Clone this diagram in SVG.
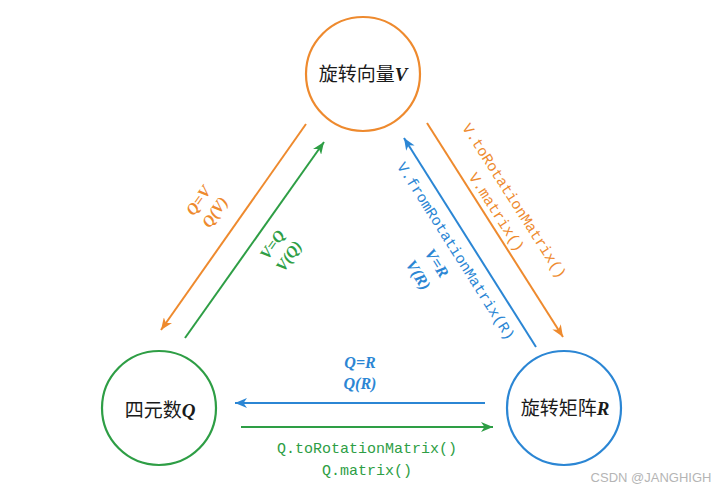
<svg xmlns="http://www.w3.org/2000/svg" width="727" height="492" viewBox="0 0 727 492">
<style>
.node{fill:none;stroke-width:2.2}
.lbl{font-family:"Noto Sans CJK SC","Liberation Sans",sans-serif;font-size:19px;fill:#1a1a1a;text-anchor:middle}
.var{font-family:"Liberation Serif",serif;font-style:italic;font-weight:bold}
.math{font-family:"Liberation Serif",serif;font-style:italic;font-weight:bold;font-size:16px;text-anchor:middle}
.code{font-family:"Liberation Mono",monospace;font-size:15px;text-anchor:middle}
.conn{fill:none;stroke-width:2}
.o{stroke:#EE8A2E}.g{stroke:#2E9E45}.b{stroke:#2B86D4}
.to{fill:#EE8A2E}.tg{fill:#2E9E45}.tb{fill:#2B86D4}
</style>
<defs>
<marker id="ao" viewBox="0 0 12 10" refX="12" refY="5" markerWidth="12" markerHeight="10" markerUnits="userSpaceOnUse" orient="auto"><path d="M0,0 L12,5 L0,10 L3.5,5 z" fill="#EE8A2E"/></marker>
<marker id="ag" viewBox="0 0 12 10" refX="12" refY="5" markerWidth="12" markerHeight="10" markerUnits="userSpaceOnUse" orient="auto"><path d="M0,0 L12,5 L0,10 L3.5,5 z" fill="#2E9E45"/></marker>
<marker id="ab" viewBox="0 0 12 10" refX="12" refY="5" markerWidth="12" markerHeight="10" markerUnits="userSpaceOnUse" orient="auto"><path d="M0,0 L12,5 L0,10 L3.5,5 z" fill="#2B86D4"/></marker>
</defs>
<rect width="727" height="492" fill="#ffffff"/>
<g id="node-V">
<circle class="node o" cx="363" cy="74" r="57"/>
<text class="lbl" x="363" y="81">旋转向量<tspan class="var">V</tspan></text>
</g>
<g id="node-Q">
<circle class="node g" cx="159" cy="408" r="57"/>
<text class="lbl" x="160" y="417">四元数<tspan class="var">Q</tspan></text>
</g>
<g id="node-R">
<circle class="node b" cx="564" cy="408" r="57"/>
<text class="lbl" x="565" y="415">旋转矩阵<tspan class="var">R</tspan></text>
</g>
<g id="connectors">
<path class="conn o" d="M306,124 L161,330" marker-end="url(#ao)"/>
<path class="conn g" d="M185,338 L324,142" marker-end="url(#ag)"/>
<path class="conn o" d="M427,123 L563,337" marker-end="url(#ao)"/>
<path class="conn b" d="M536,347 L404,138" marker-end="url(#ab)"/>
<path class="conn b" d="M485,403 L235,403" marker-end="url(#ab)"/>
<path class="conn g" d="M241,427 L493,427" marker-end="url(#ag)"/>
<g transform="translate(206,206) rotate(-55)">
<text class="math to" x="0" y="-4">Q=V</text>
<text class="math to" x="0" y="16">Q(V)</text>
</g>
<g transform="translate(280,250) rotate(-55)">
<text class="math tg" x="0" y="-4">V=Q</text>
<text class="math tg" x="0" y="16">V(Q)</text>
</g>
<g transform="translate(506,206) rotate(57.5)">
<text class="code to" x="0" y="-5">V.toRotationMatrix()</text>
<text class="code to" x="0" y="16">V.matrix()</text>
</g>
<g transform="translate(456,251) rotate(57.7)">
<text class="code tb" x="0" y="5">V.fromRotationMatrix(R)</text>
<text class="math tb" x="0" y="28">V=R</text>
<text class="math tb" x="0" y="50">V(R)</text>
</g>
<text class="math tb" x="360" y="368">Q=R</text>
<text class="math tb" x="360" y="389">Q(R)</text>
<text class="code tg" x="367" y="453">Q.toRotationMatrix()</text>
<text class="code tg" x="367" y="475">Q.matrix()</text>
</g>
<text x="651" y="482" font-family="Liberation Sans,sans-serif" font-size="13" fill="#b5b5b5" text-anchor="middle">CSDN @JANGHIGH</text>
</svg>
